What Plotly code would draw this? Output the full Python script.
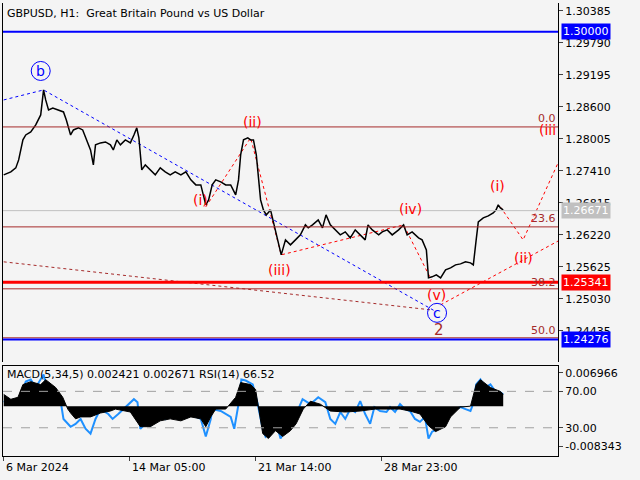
import plotly.graph_objects as go

# ---------------- data ----------------
price_t = [0,10,17,21,27,31,38,45,52,56,59,63,69,77,84,88,94,98,105,111,117,122,126,129,136,143,150,154,159,164,171,178,183,187,190,194,199,206,213,220,227,234,241,249,256,263,270,277,284,288,293,298,305,312,319,326,330,333,337,343,347,351,355,361,365,369,375,380,386,390,396,403,410,417,424,428,434,442,448,453,459,466,473,480,487,494,501,508,512,518,527,532,539,546,555,562,567,574,583,588,594,597,602,608,614,621,628,635,642,649,656,660,664,667,674,681,688,692,695,698,702]
price = [1.27336,1.27392,1.27466,1.27615,1.27987,1.28079,1.28135,1.28265,1.28451,1.28916,1.28730,1.28544,1.28581,1.28544,1.28507,1.28358,1.28079,1.28172,1.28210,1.28172,1.27987,1.27801,1.27522,1.27894,1.27931,1.27949,1.27894,1.27801,1.27987,1.27894,1.27987,1.27931,1.28079,1.28210,1.28024,1.27429,1.27522,1.27429,1.27336,1.27466,1.27392,1.27336,1.27392,1.27336,1.27392,1.27243,1.27150,1.27150,1.26778,1.26871,1.27150,1.27243,1.27206,1.27150,1.27150,1.26964,1.27243,1.27708,1.27987,1.28024,1.27987,1.27987,1.27708,1.26871,1.26685,1.26592,1.26685,1.26406,1.26035,1.25849,1.26127,1.26035,1.26127,1.26220,1.26406,1.26351,1.26406,1.26499,1.26351,1.26592,1.26406,1.26313,1.26220,1.26276,1.26165,1.26313,1.26220,1.26127,1.26406,1.26313,1.26220,1.26276,1.26313,1.26220,1.26313,1.26406,1.26220,1.26276,1.26165,1.26127,1.25942,1.25421,1.25440,1.25477,1.25421,1.25570,1.25607,1.25663,1.25681,1.25719,1.25700,1.25663,1.26127,1.26462,1.26537,1.26574,1.26629,1.26685,1.26778,1.26722,1.26685]

macd_t = [0,10,20,27,38,52,59,73,83,90,94,101,108,122,136,150,157,178,192,206,220,234,249,263,277,284,291,298,312,326,333,347,354,358,364,372,382,392,403,411,421,431,445,459,480,501,522,543,557,571,585,597,607,621,628,642,656,664,670,684,698,702]
macd = [0.00245,0.00143,0.00184,0.00449,0.00510,0.00449,0.00551,0.00388,0.00184,-0.00061,-0.00143,-0.00265,-0.00224,-0.00224,-0.00143,-0.00102,-0.00061,-0.00122,-0.00428,-0.00428,-0.00306,-0.00265,-0.00306,-0.00224,-0.00265,-0.00428,-0.00224,-0.00061,-0.00061,0.00184,0.00490,0.00449,0.00347,-0.00061,-0.00571,-0.00673,-0.00510,-0.00632,-0.00510,-0.00367,-0.00061,0.00102,0.00041,-0.00102,-0.00122,-0.00102,-0.00061,-0.00061,-0.00061,-0.00102,-0.00163,-0.00408,-0.00530,-0.00428,-0.00224,-0.00020,0.0,0.00449,0.00551,0.00388,0.00306,0.00245]

rsi_t = [0,10,24,31,38,45,56,63,73,80,84,94,101,108,115,122,129,136,147,153,161,171,183,188,192,199,206,213,220,227,234,241,249,263,277,284,291,293,305,319,324,330,334,340,350,357,364,368,375,382,389,396,403,411,420,431,442,452,459,466,473,480,487,494,501,508,515,521,529,538,543,550,557,564,571,578,585,592,597,602,611,621,628,635,642,649,656,661,664,670,677,684,691,695,698,702]
rsi = [59.2,55.9,63.5,80.8,83.0,74.3,88.4,66.8,66.8,59.2,39.7,31.1,34.3,39.7,28.9,23.5,39.7,50.5,45.1,39.7,45.1,52.7,61.4,58.1,28.9,34.3,32.2,39.7,45.1,39.7,50.5,45.1,41.9,44.1,39.7,20.3,39.7,50.5,48.4,41.9,28.9,55.9,83.0,81.9,77.6,55.9,28.9,20.3,25.7,39.7,18.1,28.9,36.5,45.1,61.4,55.9,63.5,58.1,39.7,34.3,47.3,39.7,50.5,47.3,59.2,45.1,34.3,52.7,48.4,47.3,52.7,47.3,55.9,50.5,48.4,39.7,36.5,41.9,18.1,25.7,28.9,34.3,48.4,50.5,52.7,50.5,48.4,59.2,77.6,83.0,74.3,77.6,70.0,61.4,68.9,66.8]

wave_b_t = [0,56,608];      wave_b_p = [1.28730,1.28916,1.24789]
wave_2_t = [0,600];         wave_2_p = [1.25719,1.24826]
wave_i_t = [284,347,390,562,601]; wave_i_p = [1.26741,1.28024,1.25849,1.26406,1.25384]
wave_c_t = [614,795];       wave_c_p = [1.24919,1.26220]
wave_n_t = [698,730,795];   wave_n_p = [1.26741,1.26127,1.28024]

levels = {"fib0": 1.28228, "fib236": 1.26369, "fib382": 1.25217, "fib50": 1.24306}
price_ticks = [1.30385,1.29790,1.29195,1.28600,1.28005,1.27410,1.26815,1.26220,1.25625,1.25030,1.24435]
time_ticks = [0,177,354,531]
time_labels = ["6 Mar 2024","14 Mar 05:00","21 Mar 14:00","28 Mar 23:00"]

BROWN = "#a52a2a"
fig = go.Figure()
dot = dict(dash="dot", width=1)
for v, c, w in [(1.30000,"#0000ff",2),(levels["fib0"],BROWN,1),(1.26671,"#c0c0c0",1),(levels["fib236"],BROWN,1),
                (1.25341,"#ff0000",3),(levels["fib382"],BROWN,1),(levels["fib50"],BROWN,1),(1.24276,"#0000ff",2)]:
    fig.add_shape(type="line", xref="x domain", yref="y", x0=0, x1=1, y0=v, y1=v, line=dict(color=c, width=w))

fig.add_trace(go.Scatter(x=wave_b_t, y=wave_b_p, mode="lines", line=dict(color="#0000ff", **dot)))
fig.add_trace(go.Scatter(x=wave_2_t, y=wave_2_p, mode="lines", line=dict(color=BROWN, **dot)))
fig.add_trace(go.Scatter(x=wave_i_t, y=wave_i_p, mode="lines", line=dict(color="#ff0000", **dot)))
fig.add_trace(go.Scatter(x=wave_c_t, y=wave_c_p, mode="lines", line=dict(color="#ff0000", **dot)))
fig.add_trace(go.Scatter(x=wave_n_t, y=wave_n_p, mode="lines", line=dict(color="#ff0000", **dot)))
fig.add_trace(go.Scatter(x=price_t, y=price, mode="lines", line=dict(color="black", width=1.5)))

fig.add_trace(go.Scatter(x=macd_t, y=macd, mode="lines", fill="tozeroy", fillcolor="black",
                         line=dict(color="black", width=1), yaxis="y3"))
fig.add_trace(go.Scatter(x=rsi_t, y=rsi, mode="lines", line=dict(color="#1e90ff", width=2), yaxis="y2"))
for v in [70, 30]:
    fig.add_shape(type="line", xref="x domain", yref="y2", x0=0, x1=1, y0=v, y1=v,
                  line=dict(color="#a0a0a0", width=1, dash="dash"))

F = "DejaVu Sans"
ann = []
def lab(t, p, txt, col, size=14):
    ann.append(dict(x=t, y=p, xref="x", yref="y", text=txt, showarrow=False,
                    font=dict(color=col, size=size, family=F)))
lab(350,1.28321,"(ii)","#ff0000"); lab(277,1.26871,"(i)","#ff0000"); lab(387,1.25570,"(iii)","#ff0000")
lab(571,1.26704,"(iv)","#ff0000"); lab(694,1.27131,"(i)","#ff0000"); lab(730,1.25793,"(ii)","#ff0000")
lab(608,1.25105,"(v)","#ff0000"); lab(612,1.24454,"2",BROWN, 15)
lab(52,1.29269,"b","#0000ff"); lab(609,1.24770,"c","#0000ff")
fig.add_trace(go.Scatter(x=[52,609], y=[1.29269,1.24770], mode="markers",
                         marker=dict(symbol="circle-open", size=19, color="#0000ff", line=dict(width=1))))
ann.append(dict(x=1, y=1.28172, xref="paper", yref="y", text="(iii", xanchor="right", showarrow=False,
                font=dict(color="#ff0000", size=14, family=F)))
for txt, p in [("0.0",1.28377),("23.6",1.26518),("38.2",1.25328),("50.0",1.24436)]:
    ann.append(dict(x=1, y=p, xref="paper", yref="y", text=txt, xanchor="right", showarrow=False,
                    font=dict(color=BROWN, size=11, family=F)))
for txt, p, bg in [("1.30000",1.30000,"#0000ff"),("1.26671",1.26671,"#c0c0c0"),("1.25341",1.25341,"#ff0000"),("1.24276",1.24276,"#0000ff")]:
    ann.append(dict(x=1.005, y=p, xref="paper", yref="y", text=txt, xanchor="left", showarrow=False,
                    bgcolor=bg, borderpad=1, font=dict(color="white", size=11, family=F)))
for t, txt in zip(time_ticks, time_labels):
    ann.append(dict(x=t, y=0, xref="x", yref="paper", yshift=-3, text=txt, xanchor="left", yanchor="top",
                    showarrow=False, font=dict(color="black", size=11, family=F)))
ann.append(dict(x=0.003, y=0.995, xref="paper", yref="paper", text="GBPUSD, H1:  Great Britain Pound vs US Dollar",
                xanchor="left", yanchor="top", showarrow=False, font=dict(size=11, family=F, color="black")))
ann.append(dict(x=0.003, y=0.198, xref="paper", yref="paper", text="MACD(5,34,5) 0.002421 0.002671 RSI(14) 66.52",
                xanchor="left", yanchor="top", showarrow=False, font=dict(size=11, family=F, color="black")))

ax = dict(showgrid=False, zeroline=False, showline=True, linecolor="black", mirror=True, automargin=False)
fig.update_layout(
    width=640, height=480, margin=dict(l=3, r=82, t=3, b=24, autoexpand=False),
    paper_bgcolor="#f4f4f4", plot_bgcolor="#f4f4f4", showlegend=False, annotations=ann,
    font=dict(family=F, size=11, color="black"),
    xaxis=dict(range=[-1, 779], tickvals=time_ticks, ticks="outside", ticklen=4, showticklabels=False,
               anchor="y2", **ax),
    yaxis=dict(domain=[0.208, 1], range=[1.23860, 1.30533], side="right", tickvals=price_ticks,
               tickformat=".5f", ticks="outside", ticklen=4, **ax),
    yaxis2=dict(domain=[0, 0.199], range=[-1, 98], side="right", tickvals=[70, 30], ticktext=["70.00","30.00"],
                ticks="outside", ticklen=4, **ax),
    yaxis3=dict(overlaying="y2", range=[-0.01038, 0.00839], side="right", tickvals=[0.006966, -0.008343],
                ticktext=["0.006966", "-0.008343"], ticks="outside", ticklen=4, showgrid=False, zeroline=False,
                automargin=False),
)
fig.write_html("out.html", config={"displayModeBar": False},
               post_script="document.body.style.margin='0';document.body.style.background='#f4f4f4';")
